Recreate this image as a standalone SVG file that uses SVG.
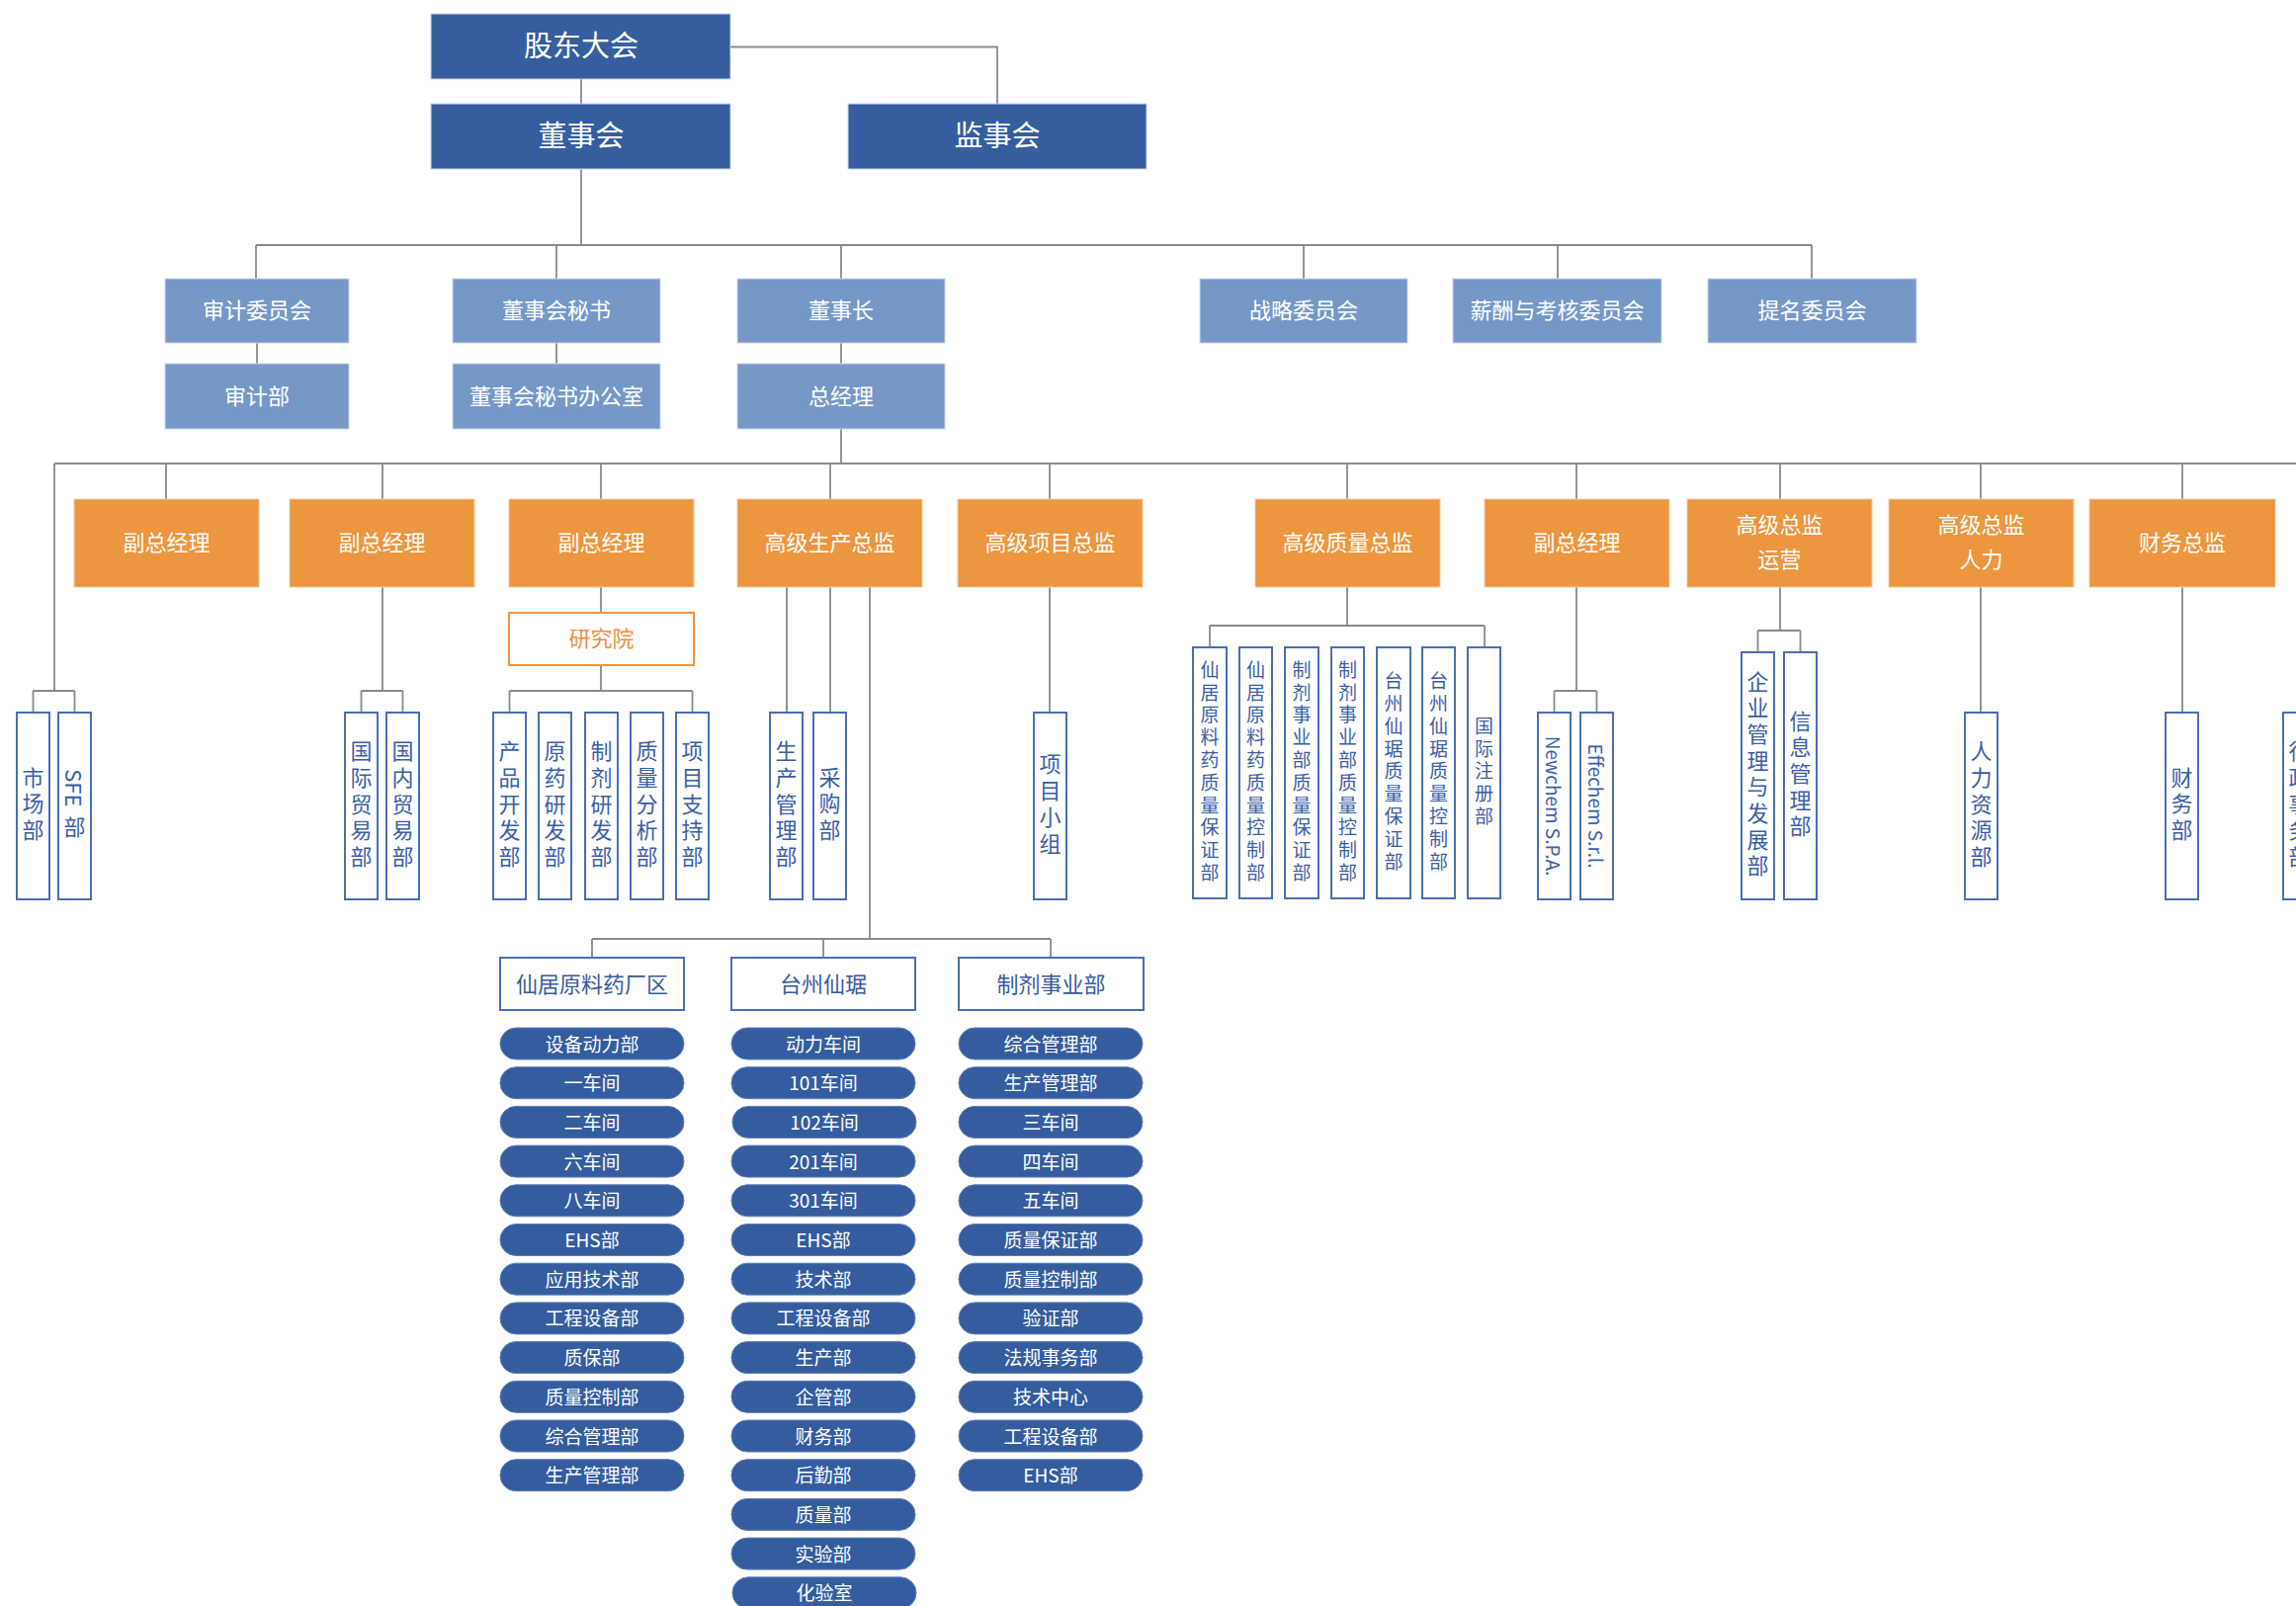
<svg xmlns="http://www.w3.org/2000/svg" width="2323" height="1625" viewBox="0 0 2323 1625">
<style>
text{font-family:"Noto Sans CJK SC","Noto Sans",sans-serif}
.ln{stroke:#8a8a8a;stroke-width:1.8;fill:none}
.top{fill:#365e9f;stroke:#c9d5ec;stroke-width:1}
.lb{fill:#7698c7;stroke:#c9d5ec;stroke-width:1}
.or{fill:#ec963f;stroke:#f5c9a0;stroke-width:1}
.vb{fill:#fff;stroke:#4a6fb3;stroke-width:2}
.hb{fill:#fff;stroke:#4a6fb3;stroke-width:2}
.pl{fill:#345c9e;stroke:#5d7db5;stroke-width:1}
.tt{fill:#fff;font-size:29px;text-anchor:middle;dominant-baseline:central}
.tl{fill:#fff;font-size:22px;text-anchor:middle;dominant-baseline:central}
.th{fill:#3a5a9c;font-size:22px;text-anchor:middle;dominant-baseline:central}
.tp{fill:#fff;font-size:19px;text-anchor:middle;dominant-baseline:central}
.tv{fill:#3b5ea6;font-size:22px;text-anchor:middle;writing-mode:vertical-rl;letter-spacing:4.7px}
.tq{fill:#3b5ea6;font-size:19px;text-anchor:middle;writing-mode:vertical-rl;letter-spacing:3.8px}
.tn{fill:#3b5ea6;font-size:19px;text-anchor:middle;writing-mode:vertical-rl}
.ls0{letter-spacing:0}
</style>
<rect width="2323" height="1625" fill="#fff"/>
<g id="connectors">
<path class="ln" d="M588 80V105M739 47.5H1009V105M588 171V248M259 248H1833M259 248V282M563 248V282M851 248V282M1319 248V282M1576 248V282M1833 248V282M260 347V368M563 347V368M851 347V368M851 434V469M55 469H2323M168 469V505M387 469V505M608 469V505M840 469V505M1062 469V505M1363 469V505M1595 469V505M1801 469V505M2004 469V505M2208 469V505"/>
<path class="ln" d="M55 469V699M33.5 699H75.5M33.5 699V721M75.5 699V721M387 594V699M365.5 699H407.5M365.5 699V721M407.5 699V721M608 594V620M608 673V699M515.5 699H700.5M515.5 699V721M700.5 699V721M796 594V721M840 594V721M880 594V950M599 950H1063M599 950V969M833 950V969M1063 950V969M1062 594V721M1363 594V633M1224 633H1502M1224 633V655M1502 633V655M1595 594V699M1572.5 699H1615.5M1572.5 699V721M1615.5 699V721M1801 594V638M1778.5 638H1821.5M1778.5 638V660M1821.5 638V660M2004 594V721M2208 594V721"/>
</g>
<g id="n-gudong"><rect class="top" x="436" y="14" width="303" height="66"/><text class="tt" x="588" y="44">股东大会</text></g>
<g id="n-dongshihui"><rect class="top" x="436" y="105" width="303" height="66"/><text class="tt" x="588" y="135">董事会</text></g>
<g id="n-jianshihui"><rect class="top" x="858" y="105" width="302" height="66"/><text class="tt" x="1009" y="135">监事会</text></g>
<g id="n-shenjiwei"><rect class="lb" x="167" y="282" width="186" height="65"/><text class="tl" x="260" y="311.5">审计委员会</text></g>
<g id="n-mishu"><rect class="lb" x="458" y="282" width="210" height="65"/><text class="tl" x="563" y="311.5">董事会秘书</text></g>
<g id="n-dongshizhang"><rect class="lb" x="746" y="282" width="210" height="65"/><text class="tl" x="851" y="311.5">董事长</text></g>
<g id="n-zhanlue"><rect class="lb" x="1214" y="282" width="210" height="65"/><text class="tl" x="1319" y="311.5">战略委员会</text></g>
<g id="n-xinchou"><rect class="lb" x="1470" y="282" width="211" height="65"/><text class="tl" x="1575.5" y="311.5">薪酬与考核委员会</text></g>
<g id="n-timing"><rect class="lb" x="1728" y="282" width="211" height="65"/><text class="tl" x="1833.5" y="311.5">提名委员会</text></g>
<g id="n-shenjibu"><rect class="lb" x="167" y="368" width="186" height="66"/><text class="tl" x="260" y="398.5">审计部</text></g>
<g id="n-mishuban"><rect class="lb" x="458" y="368" width="210" height="66"/><text class="tl" x="563" y="398.5">董事会秘书办公室</text></g>
<g id="n-zongjingli"><rect class="lb" x="746" y="368" width="210" height="66"/><text class="tl" x="851" y="398.5">总经理</text></g>
<g id="n-fz1"><rect class="or" x="75" y="505" width="187" height="89"/><text class="tl" x="168.5" y="547">副总经理</text></g>
<g id="n-fz2"><rect class="or" x="293" y="505" width="187" height="89"/><text class="tl" x="386.5" y="547">副总经理</text></g>
<g id="n-fz3"><rect class="or" x="515" y="505" width="187" height="89"/><text class="tl" x="608.5" y="547">副总经理</text></g>
<g id="n-shengchan"><rect class="or" x="746" y="505" width="187" height="89"/><text class="tl" x="839.5" y="547">高级生产总监</text></g>
<g id="n-xiangmu"><rect class="or" x="969" y="505" width="187" height="89"/><text class="tl" x="1062.5" y="547">高级项目总监</text></g>
<g id="n-zhiliang"><rect class="or" x="1270" y="505" width="187" height="89"/><text class="tl" x="1363.5" y="547">高级质量总监</text></g>
<g id="n-fz4"><rect class="or" x="1502" y="505" width="187" height="89"/><text class="tl" x="1595.5" y="547">副总经理</text></g>
<g id="n-yunying"><rect class="or" x="1707" y="505" width="187" height="89"/><text class="tl" x="1800.5" y="529">高级总监</text><text class="tl" x="1800.5" y="564">运营</text></g>
<g id="n-renli"><rect class="or" x="1911" y="505" width="187" height="89"/><text class="tl" x="2004.5" y="529">高级总监</text><text class="tl" x="2004.5" y="564">人力</text></g>
<g id="n-caiwu"><rect class="or" x="2114" y="505" width="188" height="89"/><text class="tl" x="2208" y="547">财务总监</text></g>
<g id="n-yanjiuyuan"><rect x="515" y="620" width="187" height="53" fill="#fff" stroke="#f0953f" stroke-width="2"/><text class="tl" x="608.5" y="644" style="fill:#ef8f3a">研究院</text></g>
<g id="n-shichang"><rect class="vb" x="17" y="721" width="33" height="189"/><text class="tv" x="33.5" y="815.5">市场部</text></g>
<g id="n-sfe"><rect class="vb" x="59" y="721" width="33" height="189"/><text class="tv" x="75.5" y="815.5"><tspan class="ls0">SFE</tspan> 部</text></g>
<g id="n-guoji"><rect class="vb" x="349" y="721" width="33" height="189"/><text class="tv" x="365.5" y="815.5">国际贸易部</text></g>
<g id="n-guonei"><rect class="vb" x="391" y="721" width="33" height="189"/><text class="tv" x="407.5" y="815.5">国内贸易部</text></g>
<g id="n-chanpin"><rect class="vb" x="499" y="721" width="33" height="189"/><text class="tv" x="515.5" y="815.5">产品开发部</text></g>
<g id="n-yuanyao"><rect class="vb" x="545" y="721" width="33" height="189"/><text class="tv" x="561.5" y="815.5">原药研发部</text></g>
<g id="n-zhiji"><rect class="vb" x="592" y="721" width="33" height="189"/><text class="tv" x="608.5" y="815.5">制剂研发部</text></g>
<g id="n-fenxi"><rect class="vb" x="638" y="721" width="33" height="189"/><text class="tv" x="654.5" y="815.5">质量分析部</text></g>
<g id="n-zhichi"><rect class="vb" x="684" y="721" width="33" height="189"/><text class="tv" x="700.5" y="815.5">项目支持部</text></g>
<g id="n-scgl"><rect class="vb" x="779" y="721" width="33" height="189"/><text class="tv" x="795.5" y="815.5">生产管理部</text></g>
<g id="n-caigou"><rect class="vb" x="823" y="721" width="33" height="189"/><text class="tv" x="839.5" y="815.5">采购部</text></g>
<g id="n-xmxz"><rect class="vb" x="1046" y="721" width="33" height="189"/><text class="tv" x="1062.5" y="815.5">项目小组</text></g>
<g id="n-q1"><rect class="vb" x="1207" y="655" width="34" height="254"/><text class="tq" x="1224" y="782">仙居原料药质量保证部</text></g>
<g id="n-q2"><rect class="vb" x="1254" y="655" width="33" height="254"/><text class="tq" x="1270.5" y="782">仙居原料药质量控制部</text></g>
<g id="n-q3"><rect class="vb" x="1300" y="655" width="34" height="254"/><text class="tq" x="1317" y="782">制剂事业部质量保证部</text></g>
<g id="n-q4"><rect class="vb" x="1347" y="655" width="33" height="254"/><text class="tq" x="1363.5" y="782">制剂事业部质量控制部</text></g>
<g id="n-q5"><rect class="vb" x="1393" y="655" width="34" height="254"/><text class="tq" x="1410" y="782">台州仙琚质量保证部</text></g>
<g id="n-q6"><rect class="vb" x="1439" y="655" width="33" height="254"/><text class="tq" x="1455.5" y="782">台州仙琚质量控制部</text></g>
<g id="n-q7"><rect class="vb" x="1485" y="655" width="33" height="254"/><text class="tq" x="1501.5" y="782">国际注册部</text></g>
<g id="n-newchem"><rect class="vb" x="1556" y="721" width="33" height="189"/><text class="tn" x="1572.5" y="815.5">Newchem S.P.A.</text></g>
<g id="n-effechem"><rect class="vb" x="1599" y="721" width="33" height="189"/><text class="tn" x="1615.5" y="815.5">Effechem S.r.l.</text></g>
<g id="n-qiye"><rect class="vb" x="1762" y="660" width="33" height="250"/><text class="tv" x="1778.5" y="785">企业管理与发展部</text></g>
<g id="n-xinxi"><rect class="vb" x="1805" y="660" width="33" height="250"/><text class="tv" x="1821.5" y="785">信息管理部</text></g>
<g id="n-renliziyuan"><rect class="vb" x="1988" y="721" width="33" height="189"/><text class="tv" x="2004.5" y="815.5">人力资源部</text></g>
<g id="n-caiwubu"><rect class="vb" x="2191" y="721" width="33" height="189"/><text class="tv" x="2207.5" y="815.5">财务部</text></g>
<g id="n-xingzheng"><rect class="vb" x="2310" y="721" width="33" height="189"/><text class="tv" x="2326.5" y="815.5">行政事务部</text></g>
<g id="n-xianju"><rect class="hb" x="506" y="969" width="186" height="53"/><text class="th" x="599" y="993.5">仙居原料药厂区</text></g>
<g id="n-taizhou"><rect class="hb" x="740" y="969" width="186" height="53"/><text class="th" x="833" y="993.5">台州仙琚</text></g>
<g id="n-zhijishiye"><rect class="hb" x="970" y="969" width="187" height="53"/><text class="th" x="1063.5" y="993.5">制剂事业部</text></g>
<g id="col-xianju">
<g id="p-l1"><rect class="pl" x="506" y="1040" width="186" height="32" rx="16"/><text class="tp" x="599" y="1055">设备动力部</text></g>
<g id="p-l2"><rect class="pl" x="506" y="1079.7" width="186" height="32" rx="16"/><text class="tp" x="599" y="1094.7">一车间</text></g>
<g id="p-l3"><rect class="pl" x="506" y="1119.4" width="186" height="32" rx="16"/><text class="tp" x="599" y="1134.4">二车间</text></g>
<g id="p-l4"><rect class="pl" x="506" y="1159.1" width="186" height="32" rx="16"/><text class="tp" x="599" y="1174.1">六车间</text></g>
<g id="p-l5"><rect class="pl" x="506" y="1198.8" width="186" height="32" rx="16"/><text class="tp" x="599" y="1213.8">八车间</text></g>
<g id="p-l6"><rect class="pl" x="506" y="1238.5" width="186" height="32" rx="16"/><text class="tp" x="599" y="1253.5">EHS部</text></g>
<g id="p-l7"><rect class="pl" x="506" y="1278.2" width="186" height="32" rx="16"/><text class="tp" x="599" y="1293.2">应用技术部</text></g>
<g id="p-l8"><rect class="pl" x="506" y="1317.9" width="186" height="32" rx="16"/><text class="tp" x="599" y="1332.9">工程设备部</text></g>
<g id="p-l9"><rect class="pl" x="506" y="1357.6" width="186" height="32" rx="16"/><text class="tp" x="599" y="1372.6">质保部</text></g>
<g id="p-l10"><rect class="pl" x="506" y="1397.3" width="186" height="32" rx="16"/><text class="tp" x="599" y="1412.3">质量控制部</text></g>
<g id="p-l11"><rect class="pl" x="506" y="1437" width="186" height="32" rx="16"/><text class="tp" x="599" y="1452">综合管理部</text></g>
<g id="p-l12"><rect class="pl" x="506" y="1476.7" width="186" height="32" rx="16"/><text class="tp" x="599" y="1491.7">生产管理部</text></g>
</g>
<g id="col-taizhou">
<g id="p-m1"><rect class="pl" x="740" y="1040" width="186" height="32" rx="16"/><text class="tp" x="833" y="1055">动力车间</text></g>
<g id="p-m2"><rect class="pl" x="740" y="1079.7" width="186" height="32" rx="16"/><text class="tp" x="833" y="1094.7">101车间</text></g>
<g id="p-m3"><rect class="pl" x="741" y="1119.4" width="186" height="32" rx="16"/><text class="tp" x="834" y="1134.4">102车间</text></g>
<g id="p-m4"><rect class="pl" x="740" y="1159.1" width="186" height="32" rx="16"/><text class="tp" x="833" y="1174.1">201车间</text></g>
<g id="p-m5"><rect class="pl" x="740" y="1198.8" width="186" height="32" rx="16"/><text class="tp" x="833" y="1213.8">301车间</text></g>
<g id="p-m6"><rect class="pl" x="740" y="1238.5" width="186" height="32" rx="16"/><text class="tp" x="833" y="1253.5">EHS部</text></g>
<g id="p-m7"><rect class="pl" x="740" y="1278.2" width="186" height="32" rx="16"/><text class="tp" x="833" y="1293.2">技术部</text></g>
<g id="p-m8"><rect class="pl" x="740" y="1317.9" width="186" height="32" rx="16"/><text class="tp" x="833" y="1332.9">工程设备部</text></g>
<g id="p-m9"><rect class="pl" x="740" y="1357.6" width="186" height="32" rx="16"/><text class="tp" x="833" y="1372.6">生产部</text></g>
<g id="p-m10"><rect class="pl" x="740" y="1397.3" width="186" height="32" rx="16"/><text class="tp" x="833" y="1412.3">企管部</text></g>
<g id="p-m11"><rect class="pl" x="740" y="1437" width="186" height="32" rx="16"/><text class="tp" x="833" y="1452">财务部</text></g>
<g id="p-m12"><rect class="pl" x="740" y="1476.7" width="186" height="32" rx="16"/><text class="tp" x="833" y="1491.7">后勤部</text></g>
<g id="p-m13"><rect class="pl" x="740" y="1516.4" width="186" height="32" rx="16"/><text class="tp" x="833" y="1531.4">质量部</text></g>
<g id="p-m14"><rect class="pl" x="740" y="1556.1" width="186" height="32" rx="16"/><text class="tp" x="833" y="1571.1">实验部</text></g>
<g id="p-m15"><rect class="pl" x="741" y="1595.8" width="186" height="32" rx="16"/><text class="tp" x="834" y="1610.8">化验室</text></g>
</g>
<g id="col-zhiji">
<g id="p-r1"><rect class="pl" x="970" y="1040" width="186" height="32" rx="16"/><text class="tp" x="1063" y="1055">综合管理部</text></g>
<g id="p-r2"><rect class="pl" x="970" y="1079.7" width="186" height="32" rx="16"/><text class="tp" x="1063" y="1094.7">生产管理部</text></g>
<g id="p-r3"><rect class="pl" x="970" y="1119.4" width="186" height="32" rx="16"/><text class="tp" x="1063" y="1134.4">三车间</text></g>
<g id="p-r4"><rect class="pl" x="970" y="1159.1" width="186" height="32" rx="16"/><text class="tp" x="1063" y="1174.1">四车间</text></g>
<g id="p-r5"><rect class="pl" x="970" y="1198.8" width="186" height="32" rx="16"/><text class="tp" x="1063" y="1213.8">五车间</text></g>
<g id="p-r6"><rect class="pl" x="970" y="1238.5" width="186" height="32" rx="16"/><text class="tp" x="1063" y="1253.5">质量保证部</text></g>
<g id="p-r7"><rect class="pl" x="970" y="1278.2" width="186" height="32" rx="16"/><text class="tp" x="1063" y="1293.2">质量控制部</text></g>
<g id="p-r8"><rect class="pl" x="970" y="1317.9" width="186" height="32" rx="16"/><text class="tp" x="1063" y="1332.9">验证部</text></g>
<g id="p-r9"><rect class="pl" x="970" y="1357.6" width="186" height="32" rx="16"/><text class="tp" x="1063" y="1372.6">法规事务部</text></g>
<g id="p-r10"><rect class="pl" x="970" y="1397.3" width="186" height="32" rx="16"/><text class="tp" x="1063" y="1412.3">技术中心</text></g>
<g id="p-r11"><rect class="pl" x="970" y="1437" width="186" height="32" rx="16"/><text class="tp" x="1063" y="1452">工程设备部</text></g>
<g id="p-r12"><rect class="pl" x="970" y="1476.7" width="186" height="32" rx="16"/><text class="tp" x="1063" y="1491.7">EHS部</text></g>
</g>
</svg>
